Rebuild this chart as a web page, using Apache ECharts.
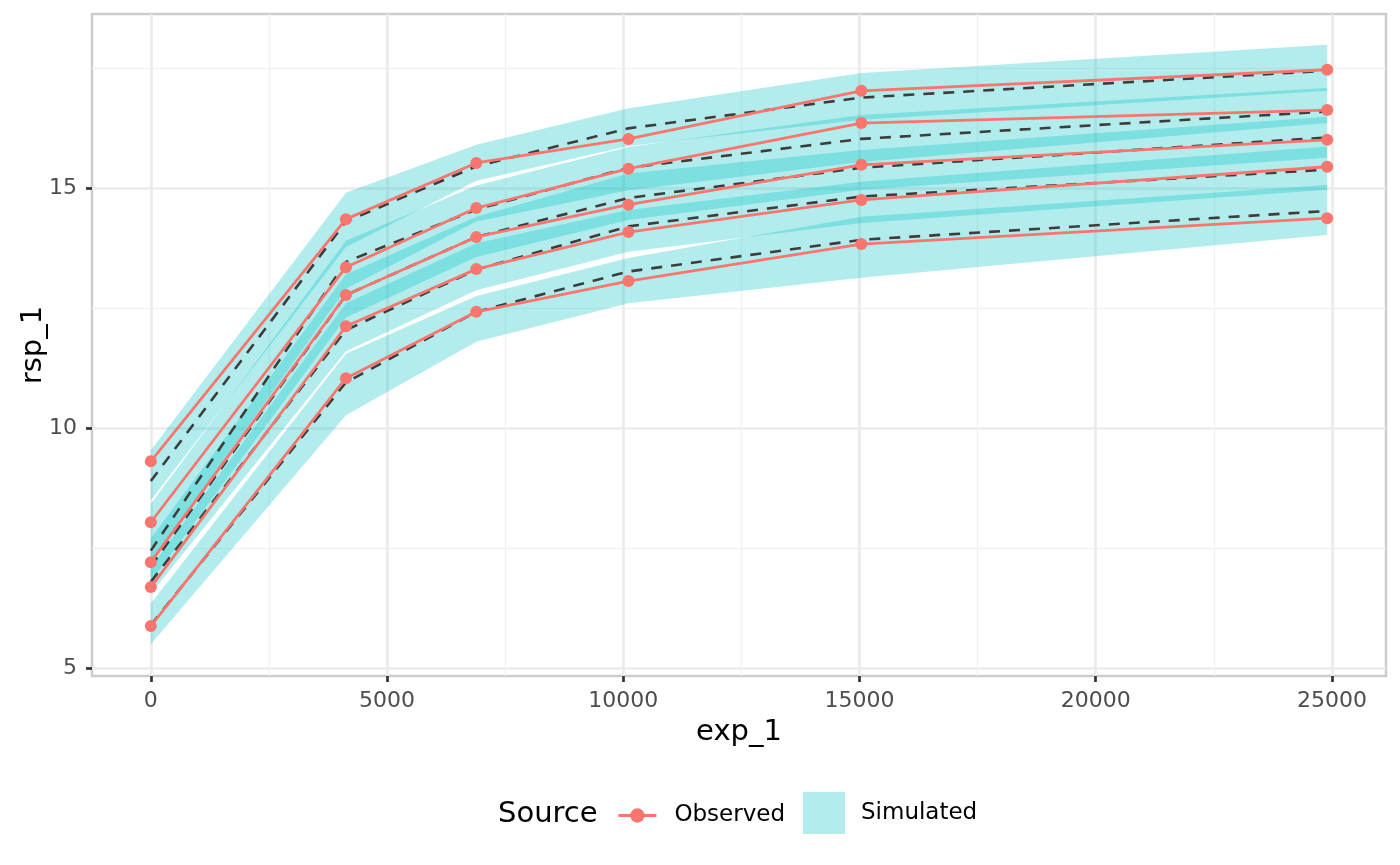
<!DOCTYPE html>
<html>
<head>
<meta charset="utf-8">
<script src="https://cdn.jsdelivr.net/npm/echarts@6/dist/echarts.min.js"></script>
<style>
  html, body { margin: 0; padding: 0; background: #fff; }
  #chart { width: 1400px; height: 865px; }
</style>
</head>
<body>
<div id="chart"></div>
<script>
// observed time points and quantile curves
var obsX = [0, 4130, 6890, 10110, 15040, 24900];
var obsY = [
  [9.31, 14.35, 15.52, 16.02, 17.02, 17.46],
  [8.04, 13.35, 14.58, 15.40, 16.35, 16.62],
  [7.21, 12.77, 13.98, 14.65, 15.48, 16.00],
  [6.69, 12.12, 13.31, 14.08, 14.75, 15.44],
  [5.88, 11.04, 12.42, 13.06, 13.83, 14.37]
];

// simulated: median of each quantile + its interval
var simX = [0, 4130, 6890, 10110, 15040, 24900];
var simMed = [
  [8.90, 14.30, 15.45, 16.24, 16.88, 17.44],
  [7.45, 13.46, 14.55, 15.42, 16.02, 16.59],
  [7.12, 12.77, 13.98, 14.79, 15.42, 16.05],
  [6.80, 12.04, 13.30, 14.20, 14.82, 15.38],
  [5.90, 10.95, 12.42, 13.26, 13.92, 14.52]
];
var simHi = [
  [9.54, 14.90, 15.90, 16.66, 17.39, 17.98],
  [8.42, 13.90, 15.05, 15.85, 16.52, 17.08],
  [7.70, 13.20, 14.40, 15.30, 15.79, 16.48],
  [7.10, 12.60, 13.85, 14.54, 15.13, 15.86],
  [6.35, 11.55, 12.75, 13.54, 14.40, 15.06]
];
var simLo = [
  [8.50, 13.77, 15.15, 15.87, 16.42, 17.02],
  [7.20, 12.90, 14.30, 14.95, 15.54, 16.35],
  [6.80, 12.30, 13.56, 14.33, 14.96, 15.63],
  [6.55, 11.60, 12.87, 13.67, 14.27, 14.96],
  [5.50, 10.27, 11.80, 12.60, 13.13, 14.02]
];

// axis ticks
var xTicks = [0, 5000, 10000, 15000, 20000, 25000];
var xMinor = [2500, 7500, 12500, 17500, 22500];
var yTicks = [5, 10, 15];
var yMinor = [7.5, 12.5, 17.5];

var FONT = 'DejaVu Sans';
var RED = '#F8766D';
var FILL = 'rgba(0,191,196,0.3)';

var chart = echarts.init(document.getElementById('chart'));

var series = [];

series.push({
  name: 'Simulated',
  type: 'custom',
  z: 2,
  xAxisIndex: 0,
  yAxisIndex: 0,
  itemStyle: { color: FILL },
  data: simLo.map(function (row, b) { return [simX[0], row[0], b]; }),
  renderItem: function (params, api) {
    var b = api.value(2);
    var pts = [];
    for (var i = 0; i < simX.length; i++) pts.push(api.coord([simX[i], simHi[b][i]]));
    for (var j = simX.length - 1; j >= 0; j--) pts.push(api.coord([simX[j], simLo[b][j]]));
    return { type: 'polygon', shape: { points: pts }, style: { fill: FILL } };
  },
  silent: true
});

simMed.forEach(function (row) {
  series.push({
    name: 'median',
    type: 'line',
    z: 3,
    symbol: 'none',
    data: simX.map(function (x, i) { return [x, row[i]]; }),
    lineStyle: { color: '#3d3d3d', width: 2.6, type: [11, 9] },
    silent: true
  });
});

obsY.forEach(function (row) {
  series.push({
    name: 'Observed',
    type: 'line',
    z: 4,
    symbol: 'circle',
    symbolSize: 12,
    itemStyle: { color: RED },
    lineStyle: { color: RED, width: 2.8 },
    data: obsX.map(function (x, i) { return [x, row[i]]; }),
    silent: true
  });
});

var option = {
  animation: false,
  backgroundColor: '#fff',
  textStyle: { fontFamily: FONT },
  grid: {
    left: 92, right: 14, top: 14, bottom: 189,
    show: true, borderColor: '#CCCCCC', borderWidth: 2.5,
    backgroundColor: '#fff',
    outerBoundsMode: 'none'
  },
  xAxis: [{
    type: 'value',
    min: -1245, max: 26145,
    name: 'exp_1', nameLocation: 'middle', nameGap: 42,
    nameTextStyle: { fontFamily: FONT, fontSize: 29, color: '#000' },
    axisLine: { show: false, onZero: false },
    axisTick: { show: true, length: 6, customValues: xTicks, lineStyle: { color: '#333', width: 2.7 } },
    axisLabel: {
      customValues: xTicks, margin: 14, fontFamily: FONT, fontSize: 22, color: '#4D4D4D',
      formatter: function (v) { return String(v); }
    },
    splitLine: { show: true, lineStyle: { color: '#EBEBEB', width: 2.7 } }
  }, {
    type: 'value', position: 'top',
    min: -1245, max: 26145,
    axisLine: { show: false, onZero: false },
    axisTick: { show: false, customValues: xMinor },
    axisLabel: { show: false, customValues: xMinor },
    splitLine: { show: true, lineStyle: { color: '#F2F2F2', width: 1.4 } }
  }],
  yAxis: [{
    type: 'value',
    min: 4.84, max: 18.62,
    name: 'rsp_1', nameLocation: 'middle', nameGap: 44, nameMoveOverlap: false,
    nameTextStyle: { fontFamily: FONT, fontSize: 29, color: '#000' },
    axisLine: { show: false, onZero: false },
    axisTick: { show: true, length: 6, customValues: yTicks, lineStyle: { color: '#333', width: 2.7 } },
    axisLabel: { customValues: yTicks, margin: 15, fontFamily: FONT, fontSize: 22, color: '#4D4D4D' },
    splitLine: { show: true, lineStyle: { color: '#EBEBEB', width: 2.7 } }
  }, {
    type: 'value', position: 'right',
    min: 4.84, max: 18.62,
    axisLine: { show: false, onZero: false },
    axisTick: { show: false, customValues: yMinor },
    axisLabel: { show: false, customValues: yMinor },
    splitLine: { show: true, lineStyle: { color: '#F2F2F2', width: 1.4 } }
  }],
  legend: [{
    data: [{ name: 'Observed', lineStyle: { width: 2.8 } }],
    left: 617, top: 804, padding: 0,
    itemWidth: 38, itemHeight: 18,
    textStyle: { fontFamily: FONT, fontSize: 23, color: '#000', padding: [0, 0, 0, 13] },
    selectedMode: false
  }, {
    data: [{ name: 'Simulated', icon: 'rect', itemStyle: { color: FILL } }],
    left: 803, top: 792, padding: 0,
    itemWidth: 42, itemHeight: 42,
    textStyle: { fontFamily: FONT, fontSize: 23, color: '#000', padding: [3, 0, 0, 11] },
    selectedMode: false
  }],
  graphic: [{
    type: 'text',
    left: 498, top: 800,
    style: { text: 'Source', fontFamily: FONT, fontSize: 29, fill: '#000' }
  }],
  series: series
};

chart.setOption(option);
</script>
</body>
</html>
